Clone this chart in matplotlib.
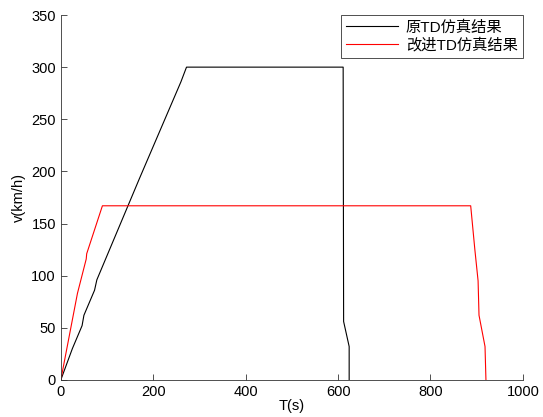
import matplotlib
matplotlib.use("Agg")
import matplotlib.pyplot as plt

plt.rcParams['font.family'] = ['Liberation Sans', 'Noto Sans CJK SC', 'DejaVu Sans']

# 原TD 仿真结果 (black)
t_orig = [0, 25, 46, 50, 73, 78, 170, 260, 272, 611, 612, 624, 624]
v_orig = [0, 30, 52, 62, 86, 96, 193, 286, 300, 300, 56, 32, 0]
# 改进TD 仿真结果 (red)
t_impr = [0, 36, 55, 56, 90, 887, 896, 903, 905, 918, 920]
v_impr = [0, 83, 116, 121, 167, 167, 125, 95, 62, 32, 0]

fig = plt.figure(figsize=(5.43, 4.17), dpi=100)
ax = fig.add_axes([0.112, 0.089, 0.851, 0.875])
ax.plot(t_orig, v_orig, color="black", lw=0.8, label="原TD仿真结果")
ax.plot(t_impr, v_impr, color="red", lw=0.8, label="改进TD仿真结果")

ax.set_xlim(0, 1000)
ax.set_ylim(0, 350)
ax.set_xticks(range(0, 1001, 200))
ax.set_yticks(range(0, 351, 50))
ax.tick_params(direction="in", length=4, labelsize=10.5, width=0.6, color="#333333")
for s in ("top", "right"):
    ax.spines[s].set_visible(False)
for s in ("left", "bottom"):
    ax.spines[s].set_linewidth(0.6)
    ax.spines[s].set_color("#333333")
ax.set_xlabel("T(s)", fontsize=10.5, labelpad=0)
ax.set_ylabel("v(km/h)", fontsize=10.5, labelpad=4)

leg = ax.legend(loc="upper right", fontsize=11, fancybox=False, framealpha=1,
                edgecolor="#333333", borderaxespad=0.0, handlelength=3.4,
                handletextpad=0.5, borderpad=0.35, labelspacing=0.2)
leg.get_frame().set_linewidth(0.6)

fig.savefig("out.png", dpi=100)
